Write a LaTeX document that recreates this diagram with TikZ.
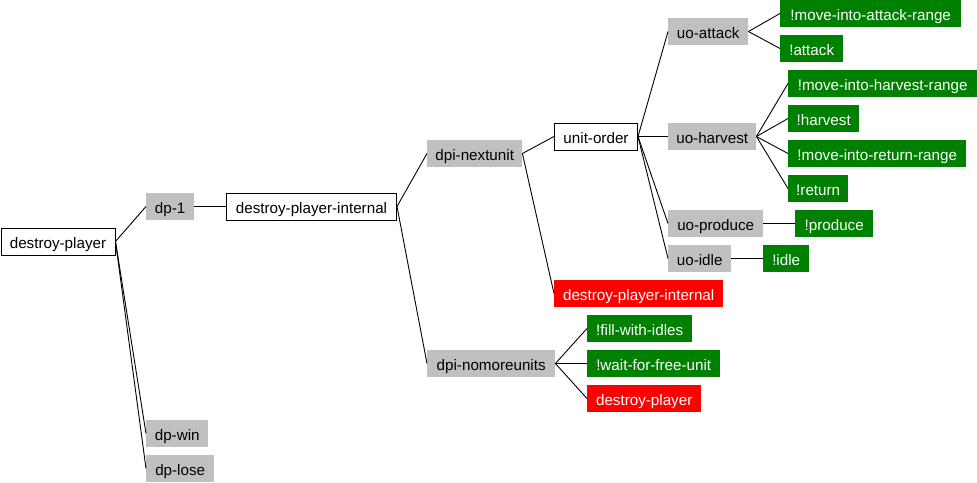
\documentclass[tikz,border=0pt]{standalone}
\usepackage{fontspec}
\setmainfont{Liberation Sans}
\definecolor{gbox}{RGB}{192,192,192}
\definecolor{grn}{RGB}{0,128,0}
\definecolor{rd}{RGB}{255,0,0}
\tikzset{
  base/.style={anchor=west, minimum height=27pt, inner sep=0pt, text height=14pt, text depth=1pt, font=\fontsize{15.2}{18}\selectfont},
  wnode/.style={base, draw=black, line width=1pt, fill=white, text=black},
  gnode/.style={base, fill=gbox, text=black},
  grnode/.style={base, fill=grn, text=white},
  rnode/.style={base, fill=rd, text=white},
  edge/.style={draw=black, line width=0.9pt}
}
\begin{document}
\begin{tikzpicture}[x=1pt,y=-1pt]
\useasboundingbox (0,0) rectangle (977,482);
% level 0-2
\node[wnode, minimum width=114] (dp) at (0.5,241.5) {destroy-player};
\node[gnode, minimum width=48] (dp1) at (146,206.5) {dp-1};
\node[gnode, minimum width=62] (dpwin) at (146,433.5) {dp-win};
\node[gnode, minimum width=68] (dplose) at (146,468.5) {dp-lose};
\node[wnode, minimum width=170] (dpi) at (226,206.5) {destroy-player-internal};
% level 3
\node[gnode, minimum width=95] (dpinext) at (427,153.5) {dpi-nextunit};
\node[gnode, minimum width=128] (dpinomore) at (427,363.5) {dpi-nomoreunits};
% level 4
\node[wnode, minimum width=83] (uo) at (554,136.5) {unit-order};
\node[rnode, minimum width=169] (dpired) at (554,293.5) {destroy-player-internal};
\node[grnode, minimum width=105] (fill) at (587,328.5) {!fill-with-idles};
\node[grnode, minimum width=133] (wait) at (587,363.5) {!wait-for-free-unit};
\node[rnode, minimum width=114] (dpred) at (587,398.5) {destroy-player};
% level 5
\node[gnode, minimum width=80] (uoatt) at (668,31.5) {uo-attack};
\node[gnode, minimum width=88] (uoharv) at (668,136.5) {uo-harvest};
\node[gnode, minimum width=95] (uoprod) at (668,223.5) {uo-produce};
\node[gnode, minimum width=63] (uoidle) at (668,258.5) {uo-idle};
% level 6
\node[grnode, minimum width=181] (mar) at (780,13.5) {!move-into-attack-range};
\node[grnode, minimum width=63] (att) at (780,48.5) {!attack};
\node[grnode, minimum width=189] (mhr) at (788,83.5) {!move-into-harvest-range};
\node[grnode, minimum width=71] (harv) at (788,118.5) {!harvest};
\node[grnode, minimum width=178] (mrr) at (788,153.5) {!move-into-return-range};
\node[grnode, minimum width=60] (ret) at (788,188.5) {!return};
\node[grnode, minimum width=78] (prod) at (795,223.5) {!produce};
\node[grnode, minimum width=46] (idle) at (763,258.5) {!idle};
% edges
\begin{scope}[edge]
\draw (dp.east) -- (dp1.west);
\draw (dp.east) -- (dpwin.west);
\draw (dp.east) -- (dplose.west);
\draw (dp1.east) -- (dpi.west);
\draw (dpi.east) -- (dpinext.west);
\draw (dpi.east) -- (dpinomore.west);
\draw (dpinext.east) -- (uo.west);
\draw (dpinext.east) -- (dpired.west);
\draw (dpinomore.east) -- (fill.west);
\draw (dpinomore.east) -- (wait.west);
\draw (dpinomore.east) -- (dpred.west);
\draw (uo.east) -- (uoatt.west);
\draw (uo.east) -- (uoharv.west);
\draw (uo.east) -- (uoprod.west);
\draw (uo.east) -- (uoidle.west);
\draw (uoatt.east) -- (mar.west);
\draw (uoatt.east) -- (att.west);
\draw (uoharv.east) -- (mhr.west);
\draw (uoharv.east) -- (harv.west);
\draw (uoharv.east) -- (mrr.west);
\draw (uoharv.east) -- (ret.west);
\draw (uoprod.east) -- (prod.west);
\draw (uoidle.east) -- (idle.west);
\end{scope}
\end{tikzpicture}
\end{document}
